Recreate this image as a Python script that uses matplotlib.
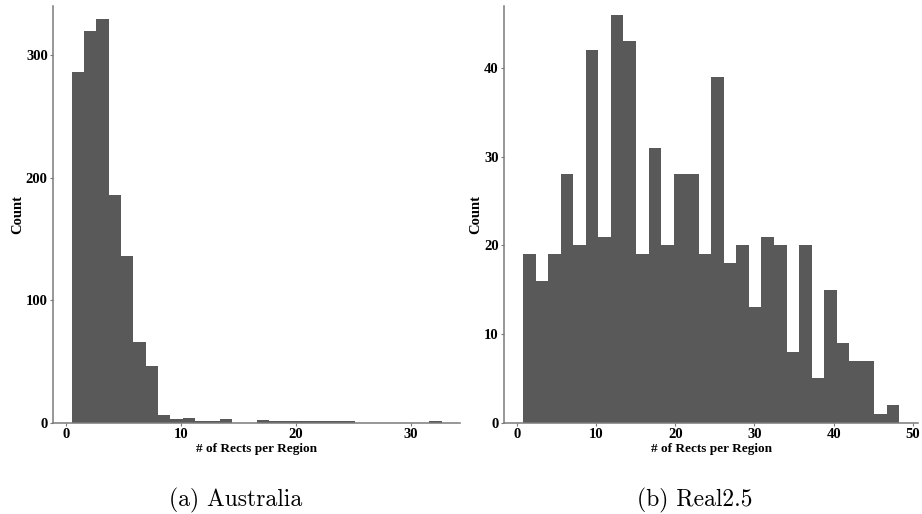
import numpy as np
import matplotlib
matplotlib.use("Agg")
import matplotlib.pyplot as plt

# ---- data ----
aus_counts = [286, 320, 329, 186, 136, 66, 46, 6, 3, 4,
              1, 1, 3, 0, 0, 2, 1, 1, 1, 1,
              1, 1, 1, 0, 0, 0, 0, 0, 0, 1]
aus_range = (0.5, 32.7)

real_counts = [19, 16, 19, 28, 20, 42, 21, 46, 43, 19,
               31, 20, 28, 28, 19, 39, 18, 20, 13, 21,
               20, 8, 20, 5, 15, 9, 7, 7, 1, 2]
real_range = (0.8, 48.3)

aus_xticks = [0, 10, 20, 30]
aus_yticks = [0, 100, 200, 300]
real_xticks = [0, 10, 20, 30, 40, 50]
real_yticks = [0, 10, 20, 30, 40]

captions = ["(a) Australia", "(b) Real2.5"]
xlabel = "# of Rects per Region"
ylabel = "Count"

BAR = "#595959"
AXC = "#7a7a7a"
serif = ["Liberation Serif", "DejaVu Serif"]

fig = plt.figure(figsize=(9.22, 5.14), dpi=100)

def panel(rect, counts, rng, xticks, yticks, ytop):
    ax = fig.add_axes(rect)
    edges = np.linspace(rng[0], rng[1], len(counts) + 1)
    ax.bar(edges[:-1], counts, width=np.diff(edges), align="edge",
           color=BAR, linewidth=0)
    span = rng[1] - rng[0]
    ax.set_xlim(rng[0] - 0.05 * span, rng[1] + 0.05 * span)
    ax.set_ylim(0, ytop)
    ax.set_xticks(xticks)
    ax.set_yticks(yticks)
    for s in ["top", "right"]:
        ax.spines[s].set_visible(False)
    for s in ["left", "bottom"]:
        ax.spines[s].set_color(AXC)
        ax.spines[s].set_linewidth(1.1)
    ax.tick_params(axis="both", length=2.5, width=0.8, color=AXC, pad=1.5,
                   labelsize=10.5, labelcolor="black")
    for lab in ax.get_xticklabels() + ax.get_yticklabels():
        lab.set_fontfamily(serif)
        lab.set_fontweight("bold")
    ax.set_xlabel(xlabel, fontfamily=serif, fontweight="bold", fontsize=9.5, labelpad=1)
    ax.set_ylabel(ylabel, fontfamily=serif, fontweight="bold", fontsize=10.5, labelpad=1)
    return ax

ax1 = panel([53.3 / 922, 1 - 422.7 / 514, (460 - 53.3) / 922, (422.7 - 6) / 514],
            aus_counts, aus_range, aus_xticks, aus_yticks, 340)
ax2 = panel([504.3 / 922, 1 - 422.7 / 514, (918.3 - 504.3) / 922, (422.7 - 6) / 514],
            real_counts, real_range, real_xticks, real_yticks, 47)

fig.text(236 / 922, 1 - 488 / 514, captions[0], fontfamily=["cmr10", "DejaVu Serif"],
         fontsize=17, ha="center", va="top")
fig.text(695 / 922, 1 - 488 / 514, captions[1], fontfamily=["cmr10", "DejaVu Serif"],
         fontsize=17, ha="center", va="top")

fig.savefig("out.png", dpi=100)
